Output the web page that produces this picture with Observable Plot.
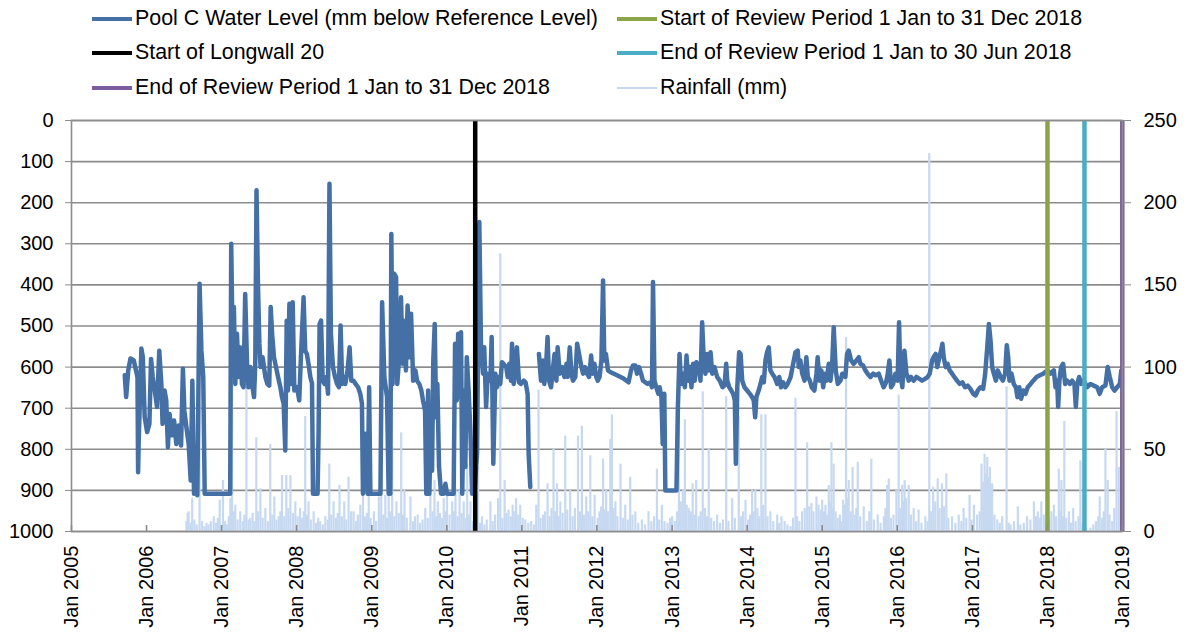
<!DOCTYPE html>
<html>
<head>
<meta charset="utf-8">
<script src="https://cdn.jsdelivr.net/npm/d3@7"></script>
<script src="https://cdn.jsdelivr.net/npm/@observablehq/plot@0.6"></script>
<style>
  html, body { margin: 0; padding: 0; background: #fff; }
  #wrap { position: relative; width: 1190px; height: 637px; font-family: "Liberation Sans", Arial, sans-serif; color: #000; }
  #legend { position: absolute; left: 0; top: 0; width: 1190px; height: 105px; }
  .item { position: absolute; display: flex; align-items: center; font-size: 21.4px; white-space: nowrap; line-height: 1; }
  .sw { display: inline-block; width: 40px; margin-right: 3px; }
  #chart { position: absolute; left: 0; top: 105px; }
</style>
</head>
<body>
<div id="wrap">
  <div id="legend"></div>
  <div id="chart"></div>
</div>
<script>
// ---------- DATA ----------
const levelTicks = [0,100,200,300,400,500,600,700,800,900,1000];
const rainTicks = [0,50,100,150,200,250];
const yearTicks = [2005,2006,2007,2008,2009,2010,2011,2012,2013,2014,2015,2016,2017,2018,2019];

const seriesNames = [
  "Pool C Water Level (mm below Reference Level)",
  "Start of Review Period 1 Jan to 31 Dec 2018",
  "Start of Longwall 20",
  "End of Review Period 1 Jan to 30 Jun 2018",
  "End of Review Period 1 Jan to 31 Dec 2018",
  "Rainfall (mm)"
];
const seriesColors = ["#4470a6", "#8aa448", "#000000", "#4bacc6", "#7b5e9f", "#c6d9f1"];

// vertical event markers
const eventDates = ["2010-05-19", "2018-01-01", "2018-06-30", "2018-12-31"];
const eventNames = ["Start of Longwall 20", "Start of Review Period 1 Jan to 31 Dec 2018",
  "End of Review Period 1 Jan to 30 Jun 2018", "End of Review Period 1 Jan to 31 Dec 2018"];

// Pool C water level (mm below reference level)
const poolLevel = [
["2005-09-17",620],["2005-09-24",673],["2005-10-04",608],["2005-10-15",579],["2005-10-31",584],["2005-11-18",625],["2005-11-21",856],["2005-11-24",779],["2005-12-07",555],["2005-12-14",576],["2005-12-23",722],
["2006-01-04",758],["2006-01-15",738],["2006-01-23",580],["2006-01-31",624],["2006-02-10",657],["2006-02-21",697],["2006-03-04",560],["2006-03-14",640],["2006-03-20",738],["2006-03-30",657],["2006-04-07",681],["2006-04-15",795],["2006-04-23",714],["2006-05-05",766],["2006-05-15",730],["2006-05-26",787],["2006-06-06",742],["2006-06-18",791],["2006-06-27",604],["2006-07-04",706],["2006-07-14",746],["2006-07-25",787],["2006-08-04",876],["2006-08-12",633],["2006-08-20",908],["2006-08-30",884],["2006-09-05",912],["2006-09-16",397],["2006-09-25",560],["2006-10-04",624],["2006-10-11",908],
["2007-02-12",908],["2007-02-17",300],["2007-02-24",560],["2007-03-02",454],["2007-03-09",641],["2007-03-17",519],["2007-03-25",624],["2007-04-02",552],["2007-04-10",641],["2007-04-18",649],["2007-04-26",422],["2007-05-05",592],["2007-05-12",649],["2007-05-21",600],["2007-05-29",641],["2007-06-08",673],["2007-06-14",592],["2007-06-20",170],["2007-06-27",397],["2007-07-04",543],["2007-07-10",600],["2007-07-20",576],["2007-08-02",624],["2007-08-12",641],["2007-08-21",645],["2007-08-28",454],["2007-09-04",519],["2007-09-13",576],["2007-09-23",600],["2007-10-03",624],["2007-10-14",649],["2007-10-22",673],["2007-10-30",689],["2007-11-07",803],["2007-11-14",487],["2007-11-20",657],["2007-11-27",446],["2007-12-05",641],["2007-12-13",442],["2007-12-21",657],
["2008-01-03",649],["2008-01-14",681],["2008-01-22",576],["2008-02-04",430],["2008-02-12",560],["2008-02-20",568],["2008-02-28",592],["2008-03-08",624],["2008-03-16",640],["2008-03-21",908],["2008-04-12",908],["2008-04-17",762],["2008-04-22",495],["2008-04-29",487],["2008-05-07",633],["2008-05-16",641],["2008-05-25",624],["2008-06-02",665],["2008-06-09",154],["2008-06-16",519],["2008-06-26",600],["2008-07-06",624],["2008-07-16",641],["2008-07-25",649],["2008-08-02",499],["2008-08-10",641],["2008-08-16",624],["2008-08-25",641],["2008-09-05",608],["2008-09-15",552],["2008-09-23",633],["2008-10-04",633],["2008-10-14",641],["2008-10-26",649],["2008-11-06",665],["2008-11-14",689],["2008-11-19",908],["2008-12-01",762],["2008-12-12",908],["2008-12-19",649],["2008-12-25",908],
["2009-02-12",908],["2009-02-20",442],["2009-03-03",624],["2009-03-16",673],["2009-03-24",908],["2009-04-01",908],["2009-04-06",276],["2009-04-12",641],["2009-04-20",373],["2009-04-29",381],["2009-05-05",641],["2009-05-15",568],["2009-05-23",430],["2009-05-31",592],["2009-06-08",487],["2009-06-16",608],["2009-06-24",450],["2009-07-03",576],["2009-07-11",470],["2009-07-21",633],["2009-08-01",608],["2009-08-09",633],["2009-08-20",641],["2009-08-30",657],["2009-09-07",681],["2009-09-17",706],["2009-09-23",908],["2009-10-02",657],["2009-10-08",908],["2009-10-16",697],["2009-10-21",852],["2009-10-27",584],["2009-11-03",495],["2009-11-10",722],["2009-11-16",641],["2009-11-24",843],["2009-12-04",908],["2009-12-16",908],["2009-12-25",884],
["2010-01-02",908],["2010-02-03",908],["2010-02-10",543],["2010-02-18",681],["2010-02-25",519],["2010-03-05",673],["2010-03-11",515],["2010-03-17",908],["2010-03-24",657],["2010-04-01",843],["2010-04-08",576],["2010-04-17",657],["2010-04-26",762],["2010-05-04",908],["2010-05-15",908],["2010-05-28",810],["2010-06-08",247],["2010-06-16",543],["2010-06-26",616],["2010-07-02",552],["2010-07-11",697],["2010-07-19",616],["2010-08-01",633],["2010-08-07",527],["2010-08-15",835],["2010-08-25",616],["2010-09-02",649],["2010-09-10",624],["2010-09-18",641],["2010-09-26",588],["2010-10-04",592],["2010-10-17",600],["2010-10-24",624],["2010-11-01",592],["2010-11-09",633],["2010-11-14",543],["2010-11-22",641],["2010-12-02",600],["2010-12-08",552],["2010-12-18",637],["2010-12-28",641],
["2011-01-10",633],["2011-01-19",637],["2011-01-29",665],["2011-02-03",811],["2011-02-11",892],["2011-02-25",null],
["2011-03-25",568],["2011-04-04",633],["2011-04-14",584],["2011-04-20",641],["2011-04-30",584],["2011-05-06",527],["2011-05-13",633],["2011-05-23",649],["2011-06-02",600],["2011-06-09",568],["2011-06-18",633],["2011-06-24",552],["2011-07-04",616],["2011-07-16",600],["2011-07-27",624],["2011-08-06",592],["2011-08-12",624],["2011-08-22",552],["2011-08-30",616],["2011-09-07",633],["2011-09-18",624],["2011-09-27",543],["2011-10-06",568],["2011-10-18",600],["2011-10-26",616],["2011-11-04",600],["2011-11-14",616],["2011-11-24",624],["2011-12-04",572],["2011-12-11",616],["2011-12-20",592],["2011-12-29",624],
["2012-01-05",633],["2012-01-14",624],["2012-01-23",584],["2012-01-31",389],["2012-02-06",584],["2012-02-14",568],["2012-02-24",608],["2012-03-06",612],["2012-04-08",620],["2012-05-10",628],["2012-06-03",637],["2012-06-15",608],["2012-06-25",596],["2012-07-06",596],["2012-07-14",616],["2012-07-24",600],["2012-08-03",616],["2012-08-12",633],["2012-08-24",637],["2012-09-04",641],["2012-09-17",637],["2012-09-25",649],["2012-09-30",393],["2012-10-07",633],["2012-10-16",649],["2012-10-26",665],["2012-11-01",649],["2012-11-10",673],["2012-11-16",787],["2012-11-24",665],["2012-11-29",900],
["2013-01-22",900],["2013-01-29",697],["2013-02-06",568],["2013-02-14",641],["2013-02-24",616],["2013-03-04",649],["2013-03-12",572],["2013-03-20",633],["2013-03-28",600],["2013-04-05",649],["2013-04-13",592],["2013-04-21",633],["2013-04-29",588],["2013-05-11",600],["2013-05-19",633],["2013-05-27",491],["2013-06-04",584],["2013-06-12",616],["2013-06-20",568],["2013-06-28",608],["2013-07-07",564],["2013-07-15",616],["2013-07-26",600],["2013-08-08",624],["2013-08-21",633],["2013-09-03",649],["2013-09-13",645],["2013-09-21",592],["2013-09-26",633],["2013-10-06",649],["2013-10-16",657],["2013-10-25",665],["2013-11-02",681],["2013-11-07",835],["2013-11-14",649],["2013-11-23",564],["2013-11-30",568],["2013-12-08",633],["2013-12-19",649],
["2014-01-01",657],["2014-01-14",665],["2014-01-25",673],["2014-02-02",681],["2014-02-09",722],["2014-02-15",673],["2014-02-26",657],["2014-03-07",641],["2014-03-15",624],["2014-03-23",637],["2014-03-31",584],["2014-04-08",564],["2014-04-16",552],["2014-04-24",608],["2014-05-03",616],["2014-05-14",624],["2014-05-27",641],["2014-06-06",624],["2014-06-15",649],["2014-06-25",637],["2014-07-06",649],["2014-07-17",641],["2014-07-31",625],["2014-08-16",584],["2014-08-24",564],["2014-09-04",560],["2014-09-09",600],["2014-09-17",584],["2014-09-26",616],["2014-10-07",633],["2014-10-16",576],["2014-10-23",624],["2014-11-02",633],["2014-11-11",649],["2014-11-24",657],["2014-12-04",616],["2014-12-10",576],["2014-12-19",633],["2014-12-28",608],
["2015-01-06",649],["2015-01-13",616],["2015-01-22",633],["2015-02-02",592],["2015-02-10",633],["2015-02-18",600],["2015-02-26",503],["2015-03-08",608],["2015-03-18",641],["2015-03-31",633],["2015-04-09",616],["2015-04-24",624],["2015-05-02",568],["2015-05-10",560],["2015-05-22",584],["2015-06-03",592],["2015-06-16",584],["2015-06-28",576],["2015-07-06",592],["2015-07-19",596],["2015-07-30",608],["2015-08-10",616],["2015-08-24",624],["2015-09-06",616],["2015-09-18",620],["2015-10-03",616],["2015-10-15",633],["2015-10-27",649],["2015-11-08",637],["2015-11-16",616],["2015-11-24",584],["2015-12-02",649],["2015-12-12",641],["2015-12-23",616],
["2016-01-03",633],["2016-01-10",491],["2016-01-16",616],["2016-01-26",649],["2016-02-05",560],["2016-02-15",616],["2016-02-26",633],["2016-03-08",624],["2016-03-21",633],["2016-04-03",624],["2016-04-16",628],["2016-05-01",633],["2016-05-17",628],["2016-05-28",624],["2016-06-07",616],["2016-06-19",584],["2016-06-26",576],["2016-07-06",568],["2016-07-14",600],["2016-07-24",576],["2016-08-01",560],["2016-08-08",543],["2016-08-14",576],["2016-08-24",600],["2016-09-02",592],["2016-09-12",608],["2016-09-24",616],["2016-10-05",624],["2016-10-18",633],["2016-10-31",641],["2016-11-13",637],["2016-11-26",649],["2016-12-09",645],["2016-12-22",653],
["2017-01-05",665],["2017-01-16",669],["2017-01-27",657],["2017-02-09",649],["2017-02-22",653],["2017-03-04",616],["2017-03-14",552],["2017-03-22",495],["2017-03-30",535],["2017-04-07",600],["2017-04-15",616],["2017-04-25",633],["2017-05-04",608],["2017-05-18",624],["2017-05-29",633],["2017-06-09",616],["2017-06-17",547],["2017-06-24",576],["2017-06-30",633],["2017-07-10",616],["2017-07-21",641],["2017-07-31",649],["2017-08-08",673],["2017-08-17",649],["2017-08-26",677],["2017-09-05",657],["2017-09-16",665],["2017-09-27",649],["2017-10-11",641],["2017-10-24",633],["2017-11-09",624],["2017-11-25",620],["2017-12-11",616],["2017-12-31",608],
["2018-01-16",616],["2018-02-01",608],["2018-02-09",649],["2018-02-17",633],["2018-02-22",697],["2018-02-28",633],["2018-03-08",600],["2018-03-18",592],["2018-03-28",641],["2018-04-07",633],["2018-04-20",641],["2018-05-01",633],["2018-05-12",641],["2018-05-19",697],["2018-05-26",641],["2018-06-04",624],["2018-06-14",641],["2018-06-27",633],["2018-07-13",649],["2018-07-29",641],["2018-08-14",645],["2018-08-31",649],["2018-09-12",665],["2018-09-24",649],["2018-10-10",645],["2018-10-21",600],["2018-10-31",624],["2018-11-12",649],["2018-11-23",657],["2018-12-06",649],["2018-12-19",641],["2018-12-26",608]
];

// Daily rainfall (mm), right axis
const rainfall = [
["2006-07-14",6],["2006-07-20",11],["2006-07-25",12],["2006-08-03",5],["2006-08-11",20],["2006-08-22",7],["2006-09-02",4],["2006-09-16",77],["2006-09-28",6],["2006-10-10",3],["2006-10-20",5],["2006-10-30",4],["2006-11-10",6],["2006-11-24",9],["2006-12-05",5],["2006-12-14",8],["2006-12-23",19],
["2007-01-08",31],["2007-01-18",6],["2007-01-28",4],["2007-02-05",9],["2007-02-13",20],["2007-02-21",105],["2007-03-01",12],["2007-03-09",16],["2007-03-20",7],["2007-04-02",12],["2007-04-14",6],["2007-04-22",10],["2007-05-02",90],["2007-05-12",7],["2007-05-21",8],["2007-06-01",11],["2007-06-10",6],["2007-06-19",57],["2007-06-28",12],["2007-07-09",26],["2007-07-20",8],["2007-08-02",14],["2007-08-14",6],["2007-08-26",53],["2007-09-05",10],["2007-09-15",21],["2007-09-25",7],["2007-10-06",9],["2007-10-14",12],["2007-10-22",34],["2007-11-02",9],["2007-11-12",34],["2007-11-22",14],["2007-12-02",34],["2007-12-14",11],["2007-12-26",18],
["2008-01-06",9],["2008-01-18",14],["2008-01-28",8],["2008-02-05",12],["2008-02-12",70],["2008-02-20",10],["2008-02-28",18],["2008-03-10",7],["2008-03-24",12],["2008-04-05",5],["2008-04-15",8],["2008-04-25",6],["2008-05-08",4],["2008-05-20",9],["2008-06-01",7],["2008-06-08",41],["2008-06-18",10],["2008-06-29",18],["2008-07-10",8],["2008-07-19",11],["2008-07-28",28],["2008-08-08",9],["2008-08-20",18],["2008-08-30",7],["2008-09-10",33],["2008-09-22",12],["2008-10-04",12],["2008-10-15",6],["2008-10-25",10],["2008-11-06",16],["2008-11-19",31],["2008-11-28",9],["2008-12-08",11],["2008-12-17",58],["2008-12-26",8],
["2009-01-11",12],["2009-01-22",6],["2009-02-04",21],["2009-02-10",9],["2009-02-16",62],["2009-02-26",10],["2009-03-08",22],["2009-03-16",8],["2009-03-24",49],["2009-04-02",12],["2009-04-10",51],["2009-04-20",9],["2009-05-01",18],["2009-05-12",11],["2009-05-24",60],["2009-06-02",10],["2009-06-09",25],["2009-06-20",8],["2009-07-08",21],["2009-07-20",6],["2009-07-30",9],["2009-08-12",10],["2009-08-24",5],["2009-09-05",7],["2009-09-18",14],["2009-09-30",8],["2009-10-13",22],["2009-10-24",12],["2009-11-02",31],["2009-11-10",9],["2009-11-18",18],["2009-11-28",11],["2009-12-08",8],["2009-12-17",20],["2009-12-26",12],
["2010-01-02",26],["2010-01-14",10],["2010-01-27",18],["2010-02-05",12],["2010-02-12",26],["2010-02-22",9],["2010-03-04",25],["2010-03-14",11],["2010-03-24",18],["2010-04-02",8],["2010-04-10",41],["2010-04-18",10],["2010-04-26",18],["2010-05-08",6],["2010-05-20",9],["2010-06-02",39],["2010-06-12",5],["2010-06-21",9],["2010-07-03",4],["2010-07-14",7],["2010-08-01",18],["2010-08-12",6],["2010-08-24",10],["2010-09-07",20],["2010-09-18",169],["2010-09-28",8],["2010-10-09",31],["2010-10-18",11],["2010-10-28",13],["2010-11-08",9],["2010-11-17",16],["2010-11-26",12],["2010-12-04",20],["2010-12-14",10],["2010-12-24",16],
["2011-01-05",8],["2011-01-18",7],["2011-02-01",5],["2011-02-15",6],["2011-03-01",4],["2011-03-12",16],["2011-03-23",86],["2011-04-02",8],["2011-04-14",10],["2011-04-24",12],["2011-05-06",29],["2011-05-16",9],["2011-05-25",14],["2011-06-04",50],["2011-06-12",12],["2011-06-21",29],["2011-06-29",9],["2011-07-07",18],["2011-07-18",11],["2011-07-31",58],["2011-08-10",13],["2011-08-24",25],["2011-09-05",9],["2011-09-16",14],["2011-10-01",58],["2011-10-10",12],["2011-10-20",64],["2011-10-30",10],["2011-11-10",21],["2011-11-20",12],["2011-11-30",46],["2011-12-10",9],["2011-12-21",22],
["2012-01-05",8],["2012-01-13",12],["2012-01-22",15],["2012-01-31",44],["2012-02-08",13],["2012-02-15",25],["2012-02-24",12],["2012-03-06",56],["2012-03-14",71],["2012-03-22",14],["2012-03-31",18],["2012-04-10",9],["2012-04-25",41],["2012-05-06",8],["2012-05-18",16],["2012-05-30",7],["2012-06-11",33],["2012-06-22",10],["2012-07-06",12],["2012-07-20",5],["2012-08-07",7],["2012-08-22",4],["2012-09-08",12],["2012-09-22",6],["2012-10-05",9],["2012-10-19",38],["2012-10-30",7],["2012-11-12",16],["2012-11-25",6],["2012-12-10",5],["2012-12-22",8],
["2013-01-01",9],["2013-01-14",6],["2013-01-25",12],["2013-02-03",95],["2013-02-12",18],["2013-02-22",25],["2013-03-04",68],["2013-03-13",16],["2013-03-23",14],["2013-04-02",12],["2013-04-11",29],["2013-04-20",10],["2013-04-28",31],["2013-05-10",9],["2013-05-20",12],["2013-05-30",85],["2013-06-10",14],["2013-06-20",9],["2013-06-28",50],["2013-07-10",8],["2013-07-24",6],["2013-08-08",10],["2013-08-22",5],["2013-09-05",7],["2013-09-21",82],["2013-10-02",6],["2013-10-20",20],["2013-11-02",8],["2013-11-21",70],["2013-12-02",9],["2013-12-12",12],["2013-12-24",19],
["2014-01-06",7],["2014-01-15",10],["2014-01-25",25],["2014-02-02",12],["2014-02-10",25],["2014-02-20",14],["2014-03-01",9],["2014-03-11",71],["2014-03-20",16],["2014-03-31",71],["2014-04-10",9],["2014-04-24",12],["2014-05-08",6],["2014-05-27",10],["2014-06-06",5],["2014-06-17",9],["2014-07-02",6],["2014-07-16",4],["2014-07-31",3],["2014-08-12",8],["2014-08-24",81],["2014-09-01",9],["2014-09-12",6],["2014-09-25",12],["2014-10-08",14],["2014-10-20",54],["2014-10-30",15],["2014-11-10",17],["2014-11-20",12],["2014-12-04",21],["2014-12-14",16],["2014-12-24",13],
["2015-01-01",19],["2015-01-09",12],["2015-01-17",16],["2015-01-25",10],["2015-02-02",28],["2015-02-09",18],["2015-02-15",54],["2015-02-21",14],["2015-02-26",41],["2015-03-07",12],["2015-03-17",8],["2015-03-28",10],["2015-04-05",6],["2015-04-13",19],["2015-04-21",16],["2015-04-27",118],["2015-05-04",20],["2015-05-10",31],["2015-05-20",12],["2015-05-29",39],["2015-06-08",10],["2015-06-16",14],["2015-06-23",42],["2015-07-05",9],["2015-07-22",15],["2015-08-06",6],["2015-08-18",12],["2015-08-28",44],["2015-09-10",7],["2015-09-28",10],["2015-10-12",5],["2015-10-28",9],["2015-11-05",14],["2015-11-13",28],["2015-11-21",32],["2015-12-02",8],["2015-12-14",10],["2015-12-28",25],
["2016-01-08",83],["2016-01-16",14],["2016-01-25",28],["2016-02-01",18],["2016-02-06",31],["2016-02-14",20],["2016-02-26",28],["2016-03-08",10],["2016-03-21",14],["2016-04-02",6],["2016-04-14",13],["2016-04-28",5],["2016-05-17",9],["2016-05-28",6],["2016-06-05",230],["2016-06-14",12],["2016-06-24",27],["2016-07-04",18],["2016-07-16",32],["2016-07-25",14],["2016-08-06",29],["2016-08-16",15],["2016-08-27",35],["2016-09-06",8],["2016-09-24",9],["2016-10-10",5],["2016-10-26",10],["2016-11-08",6],["2016-11-19",14],["2016-12-02",8],["2016-12-18",22],["2016-12-28",7],
["2017-01-08",16],["2017-01-24",10],["2017-02-05",12],["2017-02-14",41],["2017-02-22",30],["2017-03-01",47],["2017-03-07",35],["2017-03-14",45],["2017-03-20",33],["2017-03-27",39],["2017-04-02",25],["2017-04-07",29],["2017-04-18",10],["2017-05-02",7],["2017-05-14",5],["2017-05-26",9],["2017-06-16",88],["2017-06-26",5],["2017-07-05",4],["2017-07-22",6],["2017-08-10",15],["2017-08-22",4],["2017-09-08",5],["2017-09-24",9],["2017-10-10",7],["2017-10-27",18],["2017-11-06",9],["2017-11-15",12],["2017-11-25",8],["2017-12-02",18],["2017-12-14",10],["2017-12-24",6],
["2018-01-10",8],["2018-01-20",12],["2018-02-01",16],["2018-02-12",9],["2018-02-25",38],["2018-03-03",12],["2018-03-10",31],["2018-03-17",9],["2018-03-24",67],["2018-04-02",8],["2018-04-15",12],["2018-04-25",5],["2018-05-06",14],["2018-05-18",6],["2018-06-01",9],["2018-06-10",43],["2018-06-20",5],["2018-07-05",3],["2018-07-29",2],["2018-08-12",4],["2018-08-25",6],["2018-09-05",9],["2018-09-12",21],["2018-09-24",8],["2018-10-02",12],["2018-10-10",50],["2018-10-21",31],["2018-10-30",10],["2018-11-12",6],["2018-11-22",14],["2018-12-03",73],["2018-12-14",39],["2018-12-24",9]
];

// ---------- LEGEND ----------
const legendOrder = [
  {name: seriesNames[0], color: seriesColors[0], w: 4.5, col: 0, row: 0},
  {name: seriesNames[1], color: seriesColors[1], w: 4.5, col: 1, row: 0},
  {name: seriesNames[2], color: seriesColors[2], w: 4.5, col: 0, row: 1},
  {name: seriesNames[3], color: seriesColors[3], w: 4.5, col: 1, row: 1},
  {name: seriesNames[4], color: seriesColors[4], w: 4.5, col: 0, row: 2},
  {name: seriesNames[5], color: seriesColors[5], w: 2, col: 1, row: 2}
];
const colX = [92, 617], rowY = [19, 53, 88];
const legend = document.getElementById("legend");
for (const it of legendOrder) {
  const d = document.createElement("div");
  d.className = "item";
  d.style.left = colX[it.col] + "px";
  d.style.top = (rowY[it.row] - 12) + "px";
  d.style.height = "24px";
  const sw = document.createElement("span");
  sw.className = "sw";
  sw.style.height = it.w + "px";
  sw.style.background = it.color;
  d.appendChild(sw);
  const t = document.createElement("span");
  t.textContent = it.name;
  d.appendChild(t);
  legend.appendChild(d);
}

// ---------- CHART ----------
const parse = s => new Date(s + "T00:00:00Z");
const rainToLevel = mm => 1000 - mm * 4; // right axis 0..250 mapped onto left axis 1000..0
const gridColor = "#8c8c8c";
const evColor = {
  "Start of Longwall 20": seriesColors[2],
  "Start of Review Period 1 Jan to 31 Dec 2018": seriesColors[1],
  "End of Review Period 1 Jan to 30 Jun 2018": seriesColors[3],
  "End of Review Period 1 Jan to 31 Dec 2018": seriesColors[4]
};
const events = eventDates.map((d, i) => ({date: parse(d), name: eventNames[i]}));
const yearDates = yearTicks.map(y => parse(y + "-01-01"));

const chart = Plot.plot({
  width: 1190,
  height: 532,
  marginTop: 15,
  marginBottom: 106,
  marginLeft: 71,
  marginRight: 68,
  style: {fontFamily: '"Liberation Sans", Arial, sans-serif', fontSize: "20px", color: "#000", background: "#fff"},
  x: {type: "utc", domain: [parse("2005-01-01"), parse("2019-01-01")]},
  y: {domain: [0, 1000], reverse: true},
  marks: [
    Plot.gridY(levelTicks, {stroke: gridColor, strokeOpacity: 1, strokeWidth: 1.6}),
    Plot.ruleX(rainfall, {x: d => parse(d[0]), y1: 1000, y2: d => rainToLevel(d[1]), stroke: seriesColors[5], strokeWidth: 2.2}),
    Plot.line(poolLevel, {x: d => parse(d[0]), y: d => d[1], stroke: seriesColors[0], strokeWidth: 4.5, strokeLinejoin: "round", strokeLinecap: "round"}),
    Plot.ruleX(events, {x: "date", y1: 0, y2: 1000, stroke: d => evColor[d.name], strokeWidth: 4.5}),
    Plot.frame({stroke: gridColor, strokeWidth: 1.6}),
    Plot.tickX(yearDates, {x: d => d, insetTop: 405, stroke: gridColor, strokeWidth: 1.6}),
    Plot.axisY(levelTicks, {anchor: "left", tickSize: 6, tickPadding: 12, stroke: gridColor, label: null, tickFormat: d => String(d)}),
    Plot.axisY(rainTicks.map(rainToLevel), {anchor: "right", tickSize: 8, tickPadding: 13, stroke: gridColor, label: null, tickFormat: d => String((1000 - d) / 4)}),
    Plot.axisX(yearDates, {anchor: "bottom", tickSize: 0, tickPadding: 14, tickRotate: -90, label: null, tickFormat: d => "Jan " + d.getUTCFullYear()})
  ]
});
document.getElementById("chart").appendChild(chart);
</script>
</body>
</html>
